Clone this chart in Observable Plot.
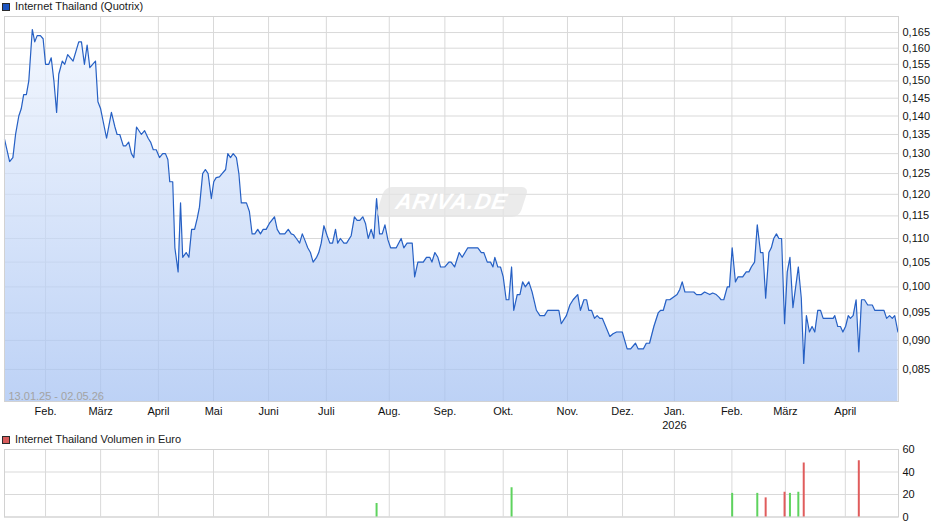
<!DOCTYPE html>
<html>
<head>
<meta charset="utf-8">
<script src="https://cdn.jsdelivr.net/npm/d3@7"></script>
<script src="https://cdn.jsdelivr.net/npm/@observablehq/plot@0.6"></script>
<style>
  html, body { margin: 0; padding: 0; background: #fff; }
  #wrap { position: relative; width: 940px; height: 526px; overflow: hidden; font-family: "Liberation Sans", Arial, sans-serif; }
  #wrap svg { display: block; }
  .leg { position: absolute; left: 2px; font-size: 11px; color: #1a1a1a; line-height: 13px; display: flex; align-items: center; white-space: nowrap; }
  .sq { width: 6px; height: 6px; border: 1px solid #2b2b2b; margin-right: 5px; }
  #wm { position: absolute; left: 380px; top: 187px; width: 144px; height: 30px; background: rgba(228,228,228,0.75);
        transform: skewX(-18deg); border-radius: 7px; display: flex; align-items: center; justify-content: center; }
  #wm span { color: #fff; font: italic bold 22px "Liberation Sans", Arial, sans-serif; letter-spacing: 1px; transform: skewX(8deg); }
</style>
</head>
<body>
<div id="wrap">
  <div class="leg" style="top:0px;"><div class="sq" style="background:#1d55c2;"></div><span id="title1"></span></div>
  <div class="leg" style="top:433px;"><div class="sq" style="background:#d95c5c;"></div><span id="title2"></span></div>
  <div id="charts"></div>
  <div id="wm"><span>ARIVA.DE</span></div>
</div>
<script>
// ---- Data ----
const priceTitle = "Internet Thailand (Quotrix)";
const volumeTitle = "Internet Thailand Volumen in Euro";
const rangeLabel = "13.01.25 - 02.05.26";

// position along the trading-day axis (0 = 13.01.25)
const priceT = [0,1.9,3.1,4.1,5.3,6.2,7.1,8.1,9.0,10.3,11.2,12.1,13.3,14.3,15.2,16.4,17.3,18.3,19.3,20.1,21.4,22.3,23.4,25.4,27.5,28.5,29.6,30.6,31.6,33.7,34.6,35.6,37.8,39.6,40.9,41.7,42.7,44.0,44.9,46.0,47.0,47.9,48.9,50.7,51.9,53.2,54.1,55.1,56.2,57.4,58.6,59.6,60.5,61.2,62.3,63.1,64.3,65.2,66.0,67.3,68.3,69.3,70.4,71.4,72.2,73.4,74.4,75.4,76.6,77.5,78.4,79.6,80.6,81.9,82.7,83.7,84.7,85.9,86.8,87.7,89.6,90.7,91.7,92.7,93.8,94.8,95.8,96.9,98.1,100.0,101.0,102.0,103.8,105.1,106.2,107.1,108.1,109.3,110.3,111.2,112.3,113.3,114.3,115.6,116.4,117.3,118.3,119.5,120.5,121.5,122.6,123.4,124.4,125.7,126.7,128.4,129.6,130.6,131.6,132.7,133.7,134.7,135.8,136.8,137.8,138.9,139.9,140.9,142.0,143.0,145.1,146.9,147.9,149.1,151.0,151.9,153.1,155.1,156.3,157.5,158.3,159.4,160.5,161.5,163.1,164.6,165.4,166.7,168.4,169.5,171.6,175.3,176.6,177.5,178.8,180.0,180.9,181.6,182.7,183.7,184.7,185.8,186.8,187.8,188.6,189.9,190.9,191.9,192.9,194.2,195.4,197.0,198.3,200.0,201.2,205.3,206.2,208.1,209.4,210.6,212.3,213.3,214.6,215.6,216.4,217.4,218.5,219.5,220.5,221.4,224.2,225.4,226.7,228.8,230.6,231.9,233.7,234.7,236.6,237.7,238.9,240.5,242.1,243.0,244.0,245.1,246.4,247.7,249.1,250.1,251.0,252.0,255.3,256.3,258.1,259.3,261.2,262.3,263.6,264.6,265.4,266.4,267.7,268.5,269.5,270.7,271.7,273.4,274.7,275.7,276.6,277.8,278.8,280.0,280.9,281.9,283.1,284.0,284.9,285.9,286.8,287.8,288.9,289.9,290.9,292.0,294.0,295.1,296.0,297.0,298.1,299.1,300.1,301.2,302.2,303.2,306.9,307.5,308.6,309.6,310.5,311.5,312.5,313.3,314.3,315.4,316.4,317.4,318.5,319.7,321.4,322.3,325.7,326.7,327.8,328.8,329.7,330.9];
const priceV = [0.1338,0.128,0.129,0.135,0.140,0.142,0.146,0.146,0.150,0.166,0.162,0.164,0.164,0.163,0.155,0.155,0.157,0.150,0.141,0.152,0.156,0.155,0.158,0.156,0.162,0.162,0.155,0.161,0.154,0.156,0.144,0.142,0.134,0.141,0.137,0.135,0.135,0.132,0.132,0.133,0.130,0.129,0.137,0.135,0.136,0.134,0.133,0.131,0.131,0.129,0.130,0.130,0.1285,0.123,0.123,0.108,0.103,0.118,0.106,0.107,0.106,0.112,0.112,0.1145,0.117,0.125,0.126,0.125,0.119,0.123,0.124,0.1242,0.125,0.126,0.130,0.129,0.130,0.129,0.125,0.118,0.118,0.116,0.111,0.111,0.112,0.111,0.112,0.112,0.1133,0.1148,0.112,0.111,0.111,0.112,0.111,0.1108,0.110,0.109,0.111,0.1097,0.108,0.107,0.105,0.106,0.107,0.109,0.1128,0.1106,0.109,0.109,0.112,0.109,0.110,0.109,0.109,0.1106,0.1148,0.114,0.114,0.1148,0.1133,0.110,0.112,0.110,0.119,0.111,0.111,0.113,0.1097,0.108,0.108,0.110,0.108,0.109,0.109,0.102,0.105,0.105,0.106,0.106,0.105,0.107,0.106,0.104,0.104,0.105,0.105,0.104,0.107,0.106,0.108,0.108,0.107,0.107,0.105,0.105,0.104,0.106,0.104,0.104,0.102,0.0975,0.0975,0.104,0.0955,0.0985,0.0985,0.101,0.100,0.101,0.099,0.0955,0.0945,0.0945,0.0955,0.0955,0.093,0.0945,0.0965,0.0975,0.0985,0.0955,0.0975,0.0975,0.0955,0.0955,0.094,0.0945,0.094,0.094,0.0907,0.0912,0.0915,0.0915,0.0885,0.0885,0.0895,0.0885,0.0885,0.0895,0.0895,0.0925,0.095,0.0955,0.0955,0.0975,0.0975,0.098,0.0985,0.0995,0.101,0.099,0.099,0.0985,0.0985,0.099,0.0985,0.0988,0.0985,0.098,0.0975,0.0975,0.100,0.100,0.108,0.101,0.102,0.102,0.103,0.103,0.104,0.105,0.113,0.107,0.107,0.0978,0.107,0.108,0.110,0.111,0.110,0.110,0.093,0.103,0.106,0.096,0.104,0.0978,0.086,0.0945,0.0915,0.0925,0.0915,0.0955,0.0955,0.094,0.094,0.0945,0.0925,0.0925,0.0915,0.0925,0.0945,0.094,0.0945,0.0975,0.088,0.0975,0.0975,0.0965,0.0965,0.0955,0.0955,0.094,0.0945,0.094,0.0945,0.0915];

const volT   = [137.8, 187.8, 269.5, 278.8, 281.9, 288.9, 290.9, 294.0, 296.0, 316.4];
const volV   = [12, 26, 21, 21, 17, 22, 21, 22, 48, 50];
const volDir = ["up","up","up","up","down","down","up","up","down","down"];

const monthT = [15.2, 35.6, 57.0, 77.4, 97.8, 119.2, 142.5, 163.1, 184.7, 208.5, 228.9, 248.1, 269.4, 289.2, 311.4];
const monthLabels = ["Feb.","März","April","Mai","Juni","Juli","Aug.","Sep.","Okt.","Nov.","Dez.","Jan.\n2026","Feb.","März","April"];
const priceTicks = [0.085,0.090,0.095,0.100,0.105,0.110,0.115,0.120,0.125,0.130,0.135,0.140,0.145,0.150,0.155,0.160,0.165];
const volTicks = [0, 20, 40, 60];

// ---- Build tables ----
const price = priceT.map((t, i) => ({t, v: priceV[i]}));
const volume = volT.map((t, i) => ({t, v: volV[i], dir: volDir[i]}));
const labelOf = new Map(monthT.map((t, i) => [t, monthLabels[i]]));
const fmtPrice = d => d.toFixed(3).replace(".", ",");

const xDomain = [0, 331.1];
const yDomain = [0.0798, 0.1703];
const font = '"Liberation Sans", Arial, sans-serif';
const gridColor = "#d9d9d9";

document.getElementById("title1").textContent = priceTitle;
document.getElementById("title2").textContent = volumeTitle;

const main = Plot.plot({
  width: 940, height: 430,
  marginTop: 16, marginBottom: 29, marginLeft: 4, marginRight: 42,
  style: {fontFamily: font, fontSize: "11px", color: "#111", background: "transparent"},
  x: {domain: xDomain, label: null},
  y: {type: "log", domain: yDomain, label: null},
  marks: [
    Plot.gridY(priceTicks, {stroke: gridColor, strokeOpacity: 1}),
    Plot.gridX(monthT, {stroke: gridColor, strokeOpacity: 1}),
    Plot.areaY(price, {x: "t", y1: yDomain[0], y2: "v", fill: "url(#priceFill)"}),
    Plot.lineY(price, {x: "t", y: "v", stroke: "#2660c4", strokeWidth: 1.2}),
    Plot.frame({stroke: "#d2d2d2"}),
    Plot.axisY(priceTicks, {anchor: "right", tickSize: 0, tickPadding: 4, tickFormat: fmtPrice, label: null}),
    Plot.axisX(monthT, {anchor: "bottom", tickSize: 0, tickPadding: 4, tickFormat: d => labelOf.get(d), lineHeight: 1.25, label: null}),
    Plot.text([rangeLabel], {frameAnchor: "bottom-left", dx: 4, dy: -2, fill: "#a3a3a3", fontSize: 11})
  ]
});

const defs = d3.select(main).insert("defs", ":first-child");
const grad = defs.append("linearGradient").attr("id", "priceFill")
  .attr("x1", 0).attr("y1", 0).attr("x2", 0).attr("y2", 1);
grad.append("stop").attr("offset", "0%").attr("stop-color", "#eef4fe").attr("stop-opacity", 0.72);
grad.append("stop").attr("offset", "100%").attr("stop-color", "#a3c0f2").attr("stop-opacity", 0.72);

const vol = Plot.plot({
  width: 940, height: 96,
  marginTop: 19, marginBottom: 9.5, marginLeft: 4, marginRight: 42,
  style: {fontFamily: font, fontSize: "11px", color: "#111", background: "transparent"},
  x: {domain: xDomain, axis: null, label: null},
  y: {domain: [0, 60], label: null},
  marks: [
    Plot.gridY(volTicks, {stroke: gridColor, strokeOpacity: 1}),
    Plot.gridX(monthT, {stroke: gridColor, strokeOpacity: 1}),
    Plot.frame({stroke: "#d2d2d2"}),
    Plot.ruleX(volume.filter(d => d.dir === "up"), {x: "t", y1: 0, y2: "v", stroke: "#5ed35e", strokeWidth: 2}),
    Plot.ruleX(volume.filter(d => d.dir === "down"), {x: "t", y1: 0, y2: "v", stroke: "#e05c5c", strokeWidth: 2}),
    Plot.axisY(volTicks, {anchor: "right", tickSize: 0, tickPadding: 4, label: null})
  ]
});

const host = document.getElementById("charts");
host.appendChild(main);
host.appendChild(vol);
</script>
</body>
</html>
